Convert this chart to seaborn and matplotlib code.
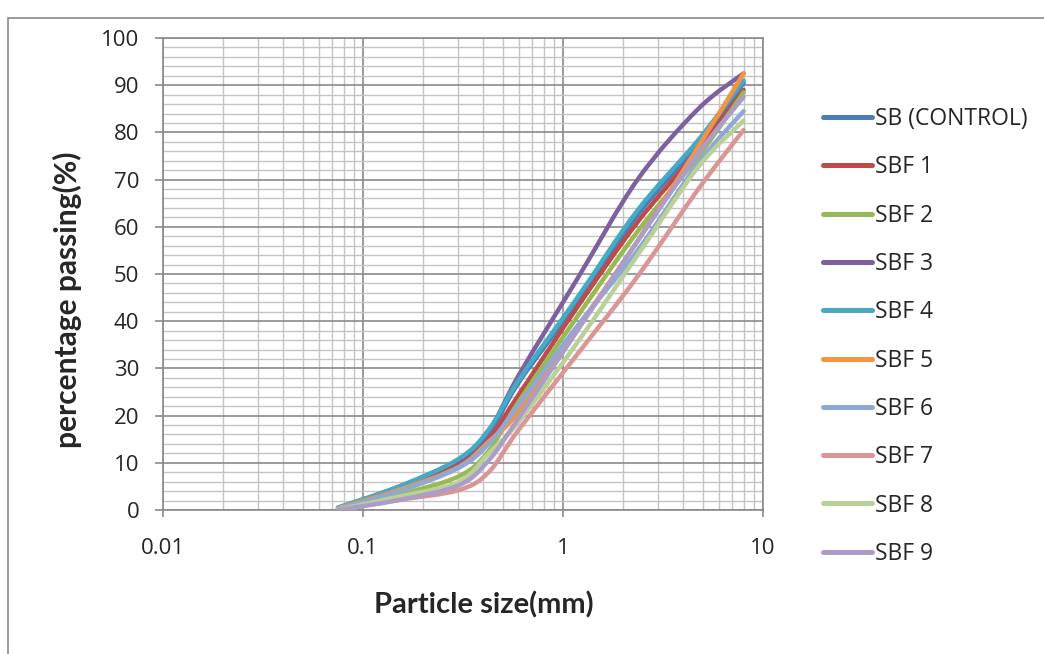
import numpy as np
import pandas as pd
import seaborn as sns
import matplotlib.pyplot as plt
from matplotlib.path import Path
from matplotlib.patches import PathPatch, Rectangle
from matplotlib.lines import Line2D
from matplotlib.ticker import MultipleLocator, LogLocator, FixedLocator, NullFormatter

# sieve sizes (mm) and percentage passing for each mix
sieve_mm = [0.075, 0.15, 0.3, 0.425, 0.6, 1.18, 2.36, 4.75, 8.0]
series_names = ['SB (CONTROL)', 'SBF 1', 'SBF 2', 'SBF 3', 'SBF 4',
                'SBF 5', 'SBF 6', 'SBF 7', 'SBF 8', 'SBF 9']
sb_control = [0.5, 4.9, 10.5, 16.0, 27.0, 44.0, 62.5, 77.5, 90.5]
sbf_1 = [0.3, 4.5, 9.8, 15.0, 24.4, 43.0, 61.0, 76.3, 89.0]
sbf_2 = [0.2, 3.2, 7.1, 12.5, 22.9, 41.0, 59.0, 74.9, 88.5]
sbf_3 = [0.3, 4.2, 9.5, 16.5, 28.5, 49.0, 70.0, 85.0, 92.5]
sbf_4 = [0.5, 4.9, 10.8, 17.0, 27.5, 45.0, 63.5, 78.4, 91.0]
sbf_5 = [0.4, 4.2, 9.1, 14.5, 20.8, 38.5, 57.0, 77.0, 92.5]
sbf_6 = [0.3, 3.9, 8.9, 14.0, 22.2, 39.0, 55.0, 73.5, 84.5]
sbf_7 = [0.0, 2.1, 4.2, 8.0, 17.0, 33.0, 49.5, 68.0, 80.5]
sbf_8 = [0.1, 2.8, 5.9, 12.0, 18.7, 35.5, 54.0, 72.7, 82.5]
sbf_9 = [0.0, 2.1, 5.2, 10.5, 19.5, 38.0, 57.0, 75.6, 87.5]

colors = ['#4A7EBB', '#BE4B48', '#98B954', '#7D60A0', '#46AAC5',
          '#F69240', '#8EA9D5', '#D99694', '#B9D096', '#AB9CC8']

all_values = [sb_control, sbf_1, sbf_2, sbf_3, sbf_4, sbf_5, sbf_6, sbf_7, sbf_8, sbf_9]
rows = []
for name, vals in zip(series_names, all_values):
    for s, v in zip(sieve_mm, vals):
        rows.append({'size': s, 'passing': v, 'series': name})
df = pd.DataFrame(rows)


# Excel-like smoothed line: cubic Bezier through the points (log x space)
def smooth_path(x, y, k=1 / 6):
    pts = np.column_stack([np.log10(x), y])
    n = len(pts)
    verts = [pts[0]]
    codes = [Path.MOVETO]
    for i in range(n - 1):
        p0 = pts[max(i - 1, 0)]
        p1 = pts[i]
        p2 = pts[i + 1]
        p3 = pts[min(i + 2, n - 1)]
        verts += [p1 + (p2 - p0) * k, p2 - (p3 - p1) * k, p2]
        codes += [Path.CURVE4] * 3
    verts = np.array(verts)
    verts[:, 0] = 10 ** verts[:, 0]
    return Path(verts, codes)


sns.set_style('white')
plt.rcParams['font.family'] = ['Open Sans', 'DejaVu Sans']

fig = plt.figure(figsize=(10.44, 6.54), dpi=100)
ax = fig.add_axes([163 / 1044, 1 - 510 / 654, 600 / 1044, 472 / 654])

sns.lineplot(data=df, x='size', y='passing', hue='series', hue_order=series_names,
             palette=colors, errorbar=None, legend=False, ax=ax, lw=3)
ax.set_xscale('log')

for line, c in zip(list(ax.lines), colors):
    x, y = line.get_xdata(), line.get_ydata()
    line.set_visible(False)
    ax.add_patch(PathPatch(smooth_path(x, y), fill=False, edgecolor=c, lw=3.2,
                           capstyle='round', joinstyle='round', zorder=3))

ax.set_xlim(0.01, 10)
ax.set_ylim(0, 100)
ax.xaxis.set_major_locator(FixedLocator([0.01, 0.1, 1, 10]))
ax.set_xticklabels(['0.01', '0.1', '1', '10'])
ax.xaxis.set_minor_locator(LogLocator(base=10, subs=np.arange(2, 10)))
ax.xaxis.set_minor_formatter(NullFormatter())
ax.yaxis.set_major_locator(MultipleLocator(10))
ax.yaxis.set_minor_locator(MultipleLocator(2))

ax.set_axisbelow(True)
ax.grid(which='major', color='#8A8A8A', lw=1.2)
ax.grid(which='minor', color='#C4C4C4', lw=1.0)
for sp in ax.spines.values():
    sp.set_color('#8A8A8A')
    sp.set_linewidth(1.2)

ax.tick_params(axis='both', which='major', labelsize=16, color='#8A8A8A',
               width=1.2, direction='out')
ax.tick_params(axis='x', which='major', bottom=True, length=5, pad=15)
ax.tick_params(axis='y', which='major', left=True, length=6, pad=11)
ax.tick_params(which='minor', length=0)

ax.set_xlabel('Particle size(mm)', fontsize=21, fontweight='bold',
              family=['Lato', 'DejaVu Sans'])
ax.set_ylabel('percentage passing(%)', fontsize=21.5, fontweight='bold',
              family=['Lato', 'DejaVu Sans'])
ax.xaxis.set_label_coords(0.535, -0.173)
ax.yaxis.set_label_coords(-0.135, 0.445)

handles = [Line2D([], [], color=c, lw=3.6, solid_capstyle='round') for c in colors]
fig.legend(handles, series_names, loc='upper left',
           bbox_to_anchor=(814 / 1044, 1 - 98 / 654), frameon=False, fontsize=16.5,
           handlelength=2.15, handletextpad=0.12, labelspacing=1.06, borderaxespad=0)

# outer chart border
fig.patches.append(Rectangle((8 / 1044, -0.1), 1.2, 1.1 - 18 / 654, fill=False,
                             edgecolor='#8A8A8A', lw=1.2, transform=fig.transFigure))

fig.savefig('out.png', dpi=100)
